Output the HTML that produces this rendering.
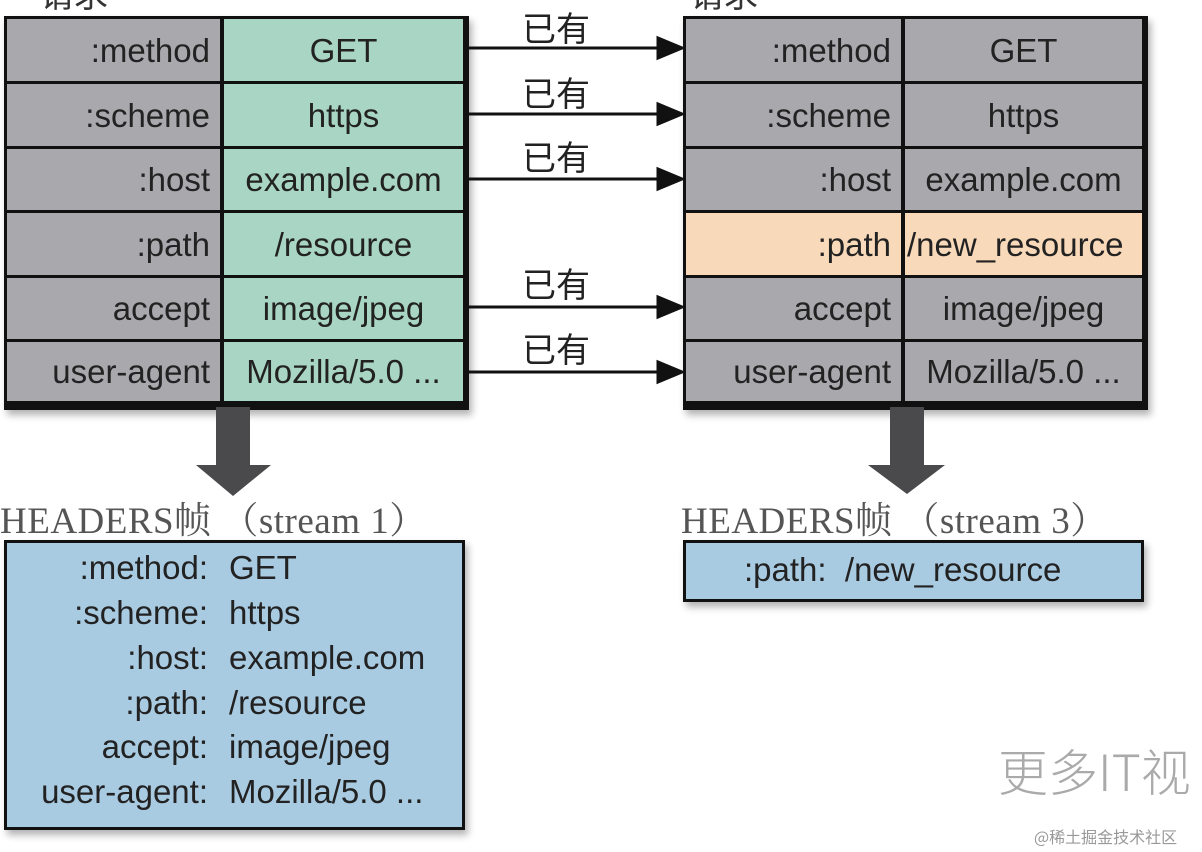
<!DOCTYPE html>
<html><head><meta charset="utf-8"><style>
body{margin:0;width:1202px;height:852px;background:#fff;position:relative;overflow:hidden;font-family:"Liberation Sans Narrow","Liberation Sans","Noto Sans CJK SC",sans-serif;}
.t{position:absolute;border:3px solid #111;box-shadow:3px 5px 7px rgba(0,0,0,.3);background:#111}
.c{position:absolute;box-sizing:border-box;font-size:33px;color:#222;line-height:1;display:flex;align-items:center;}
.g{background:#a9a8ad;justify-content:flex-end;padding-right:10px}
.v{background:#a8d5c4;justify-content:center}
.v2{background:#a9a8ad;justify-content:center}
.p{background:#f8d9b9}
.lab{position:absolute;font-family:"Liberation Sans","Noto Sans CJK SC",sans-serif;font-size:34px;color:#222}
.hd{position:absolute;font-family:"Liberation Serif","Noto Serif CJK SC",serif;font-size:37px;color:#555;letter-spacing:0.5px;white-space:nowrap}
.bl{position:absolute;border:3px solid #111;background:#a9cbe2;box-shadow:3px 5px 7px rgba(0,0,0,.3);box-sizing:border-box}
.r{position:absolute;font-size:33px;color:#222;line-height:1}
</style></head><body>
<div class="lab" style="left:40px;top:-32px;color:#333">请求</div>
<div class="lab" style="left:690px;top:-32px;color:#333">请求</div>

<div class="t" style="left:4px;top:16px;width:459px;height:388px"></div>
<div class="t" style="left:683px;top:16px;width:459px;height:388px"></div>

<div id="L"></div>
<script>
const rows=[[":method","GET"],[":scheme","https"],[":host","example.com"],[":path","/resource"],["accept","image/jpeg"],["user-agent","Mozilla/5.0 ..."]];
const ys=[19,84,149,213,278,342];let h='';
rows.forEach((r,i)=>{const y=ys[i],hh=(i<5?ys[i+1]:404)-y-3;
h+=`<div class="c g" style="left:7px;top:${y}px;width:213px;height:${hh}px">${r[0]}</div>`;
h+=`<div class="c v" style="left:224px;top:${y}px;width:239px;height:${hh}px">${r[1]}</div>`;
const p=i==3;const rv=p?"/new_resource":r[1];
h+=`<div class="c g${p?' p':''}" style="left:686px;top:${y}px;width:215px;height:${hh}px">${r[0]}</div>`;
h+=`<div class="c v2${p?' p':''}" style="left:905px;top:${y}px;width:237px;height:${hh}px;${p?'justify-content:flex-start;padding-left:2px':''}">${rv}</div>`;
});
document.getElementById('L').innerHTML=h;
</script>

<svg style="position:absolute;left:0;top:0" width="1202" height="852">
<g stroke="#111" stroke-width="3" fill="#111">
<line x1="463" y1="48" x2="660" y2="48"/><polygon points="658,38 682,48 658,58"/>
<line x1="463" y1="114" x2="660" y2="114"/><polygon points="658,104 682,114 658,124"/>
<line x1="463" y1="179" x2="660" y2="179"/><polygon points="658,169 682,179 658,189"/>
<line x1="463" y1="307" x2="660" y2="307"/><polygon points="658,297 682,307 658,317"/>
<line x1="463" y1="372" x2="660" y2="372"/><polygon points="658,362 682,372 658,382"/>
</g>
<polygon points="216,407 250,407 250,465 271,465 233,496 196,465 216,465" fill="#4a4a4c"/>
<polygon points="890,407 924,407 924,465 945,465 907,494 868,465 890,465" fill="#4a4a4c"/>
</svg>
<div class="lab" style="left:522px;top:2px">已有</div>
<div class="lab" style="left:522px;top:67px">已有</div>
<div class="lab" style="left:522px;top:131px">已有</div>
<div class="lab" style="left:522px;top:258px">已有</div>
<div class="lab" style="left:522px;top:323px">已有</div>

<div class="hd" style="left:0;top:490px">HEADERS帧 （stream 1）</div>
<div class="hd" style="left:681px;top:490px">HEADERS帧 （stream 3）</div>

<div class="bl" style="left:4px;top:540px;width:461px;height:290px"></div>
<div id="B"></div>
<script>
let b='';const ly=[551,596,641,686,730,775];
rows.forEach((r,i)=>{b+=`<div class="r" style="right:994px;top:${ly[i]}px">${r[0]}:</div><div class="r" style="left:229px;top:${ly[i]}px">${r[1]}</div>`;});
document.getElementById('B').innerHTML=b;
</script>
<div class="bl" style="left:683px;top:540px;width:461px;height:62px;font-size:33px;color:#222;padding-left:58px;line-height:54px">:path:&nbsp; /new_resource</div>

<div style="position:absolute;left:998px;top:734px;font-family:'Noto Sans CJK SC',sans-serif;font-size:50px;color:#aaa;font-weight:300;white-space:nowrap">更多IT视</div>
<div style="position:absolute;left:1034px;top:824px;font-family:'Noto Sans CJK SC',sans-serif;font-size:16px;color:#999">@稀土掘金技术社区</div>
</body></html>
